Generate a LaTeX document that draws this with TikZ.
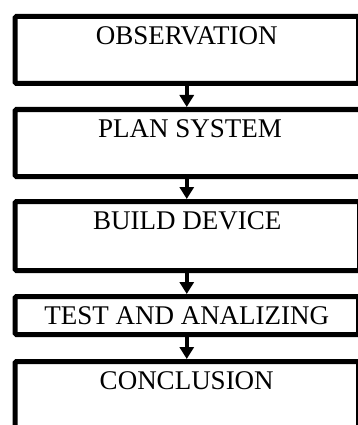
\documentclass[tikz,border=0pt]{standalone}
\usepackage{fontspec}
\setmainfont{Liberation Serif}
\usetikzlibrary{arrows.meta}

\begin{document}
\begin{tikzpicture}[x=1pt, y=-1pt, >={Triangle[length=12pt, width=14pt]},
  stage/.style={draw, line width=5pt, rounded corners=1.5pt, anchor=north west,
    inner xsep=0pt, inner ysep=10pt, text height=18pt, minimum width=343.5pt,
    font=\fontsize{27}{31}\selectfont},
  flow/.style={->, line width=4pt}]

\useasboundingbox (0,0) rectangle (358,425);

% Kaesten untereinander
\node[stage, text depth=29pt] (obs) at (12.5,14) {OBSERVATION};
\node[stage, text depth=29pt, minimum width=350pt] (plan) at (12.5,107) {PLAN SYSTEM};
\node[stage, text depth=31pt, minimum width=344.5pt] (build) at (12.5,199) {BUILD DEVICE};
\node[stage, text depth=0pt] (test) at (12.5,294) {TEST AND ANALIZING};
\node[stage, text depth=60pt] (concl) at (12.5,359) {CONCLUSION};

% Pfeile dazwischen
\draw[flow] (obs.south) -- (obs.south |- plan.north);
\draw[flow] (plan.south -| obs.south) -- (obs.south |- build.north);
\draw[flow] (build.south -| obs.south) -- (obs.south |- test.north);
\draw[flow] (test.south) -- (test.south |- concl.north);

\end{tikzpicture}
\end{document}
